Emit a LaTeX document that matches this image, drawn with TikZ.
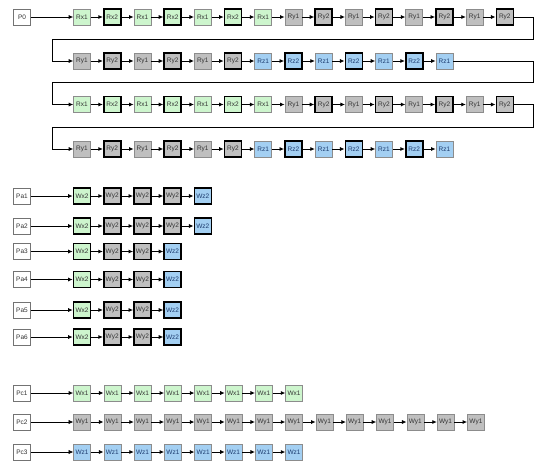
\documentclass[tikz,border=0pt]{standalone}
\usepackage{fontspec}
\setmainfont{Liberation Sans}
\usepackage{tikz}
\usetikzlibrary{arrows.meta}

\definecolor{xfill}{HTML}{CDF5CD}
\definecolor{yfill}{HTML}{BFBFBF}
\definecolor{zfill}{HTML}{A3CFF2}
\definecolor{ztext}{HTML}{1C3B6E}

\begin{document}
\begin{tikzpicture}[x=1pt,y=-1pt,
  box/.style={minimum width=17pt,minimum height=16pt,inner sep=0pt,
    font=\fontsize{6.5}{7.5}\selectfont,text=black!80},
  thin/.style={box,draw=black!45,line width=0.5pt},
  thick/.style={box,draw=black,line width=1.6pt},
  bx1/.style={thin,fill=xfill},  bx2/.style={thick,fill=xfill},
  by1/.style={thin,fill=yfill},  by2/.style={thick,fill=yfill},
  bz1/.style={thin,fill=zfill,text=ztext},  bz2/.style={thick,fill=zfill,text=ztext},
  proc/.style={box,fill=white,draw=black!55,line width=0.6pt},
  link/.style={-{Latex[length=4.6pt,width=4.2pt]},line width=0.9pt},
  faint/.style={link,line width=0.5pt}]
  \useasboundingbox (0,0) rectangle (540,467);

  % P0 runs through four rows
  \node[proc] (p0) at (22,17) {P0};
  \foreach \row/\y/\seq in {1/17/{x1,x2,x1,x2,x1,x2,x1,y1,y2,y1,y2,y1,y2,y1,y2},
      2/61/{y1,y2,y1,y2,y1,y2,z1,z2,z1,z2,z1,z2,z1},
      3/104.5/{x1,x2,x1,x2,x1,x2,x1,y1,y2,y1,y2,y1,y2,y1,y2},
      4/149/{y1,y2,y1,y2,y1,y2,z1,z2,z1,z2,z1,z2,z1}}{
    \foreach \t [count=\i] in \seq {
      \node[b\t] (r\row-\i) at ({82+30.2*(\i-1)},\y) {R\t};
      \ifnum\i>1 \pgfmathtruncatemacro\j{\i-1}\draw[link] (r\row-\j) -- (r\row-\i);\fi
    }
  }
  \draw[link] (p0) -- (r1-1);
  \draw[link] (r1-15.east) -- ++(19,0) |- (52,39) |- (r2-1.west);
  \draw[link] (r2-13.east) -| (533,82) -| (52,82) |- (r3-1.west);
  \draw[link] (r3-15.east) -- ++(19,0) |- (52,127.5) |- (r4-1.west);

  % Pa1 .. Pa6
  \foreach \k/\y/\seq in {1/196/{x2,y2,y2,y2,z2},2/226/{x2,y2,y2,y2,z2},
      3/251.5/{x2,y2,y2,z2},4/279.5/{x2,y2,y2,z2},5/310/{x2,y2,y2,z2},6/337/{x2,y2,y2,z2}}{
    \node[proc] (pa\k) at (22,\y) {Pa\k};
    \foreach \t [count=\i] in \seq {
      \node[b\t] (wa\k-\i) at ({82+30.2*(\i-1)},\y) {W\t};
      \ifnum\i>1 \pgfmathtruncatemacro\j{\i-1}\draw[link] (wa\k-\j) -- (wa\k-\i);\fi
    }
    \draw[link] (pa\k) -- (wa\k-1);
  }

  % Pc1 .. Pc3
  \foreach \k/\y/\seq in {1/393/{x1,x1,x1,x1,x1,x1,x1,x1},
      2/422/{y1,y1,y1,y1,y1,y1,y1,y1,y1,y1,y1,y1,y1,y1},
      3/452/{z1,z1,z1,z1,z1,z1,z1,z1}}{
    \node[proc] (pc\k) at (22,\y) {Pc\k};
    \foreach \t [count=\i] in \seq {
      \node[b\t] (wc\k-\i) at ({82+30.3*(\i-1)},\y) {W\t};
      \ifnum\i>1 \pgfmathtruncatemacro\j{\i-1}\draw[link] (wc\k-\j) -- (wc\k-\i);\fi
    }
  }
  \draw[link] (pc1) -- (wc1-1);
  \draw[faint] (pc2) -- (wc2-1);
  \draw[faint] (pc3) -- (wc3-1);
\end{tikzpicture}
\end{document}
